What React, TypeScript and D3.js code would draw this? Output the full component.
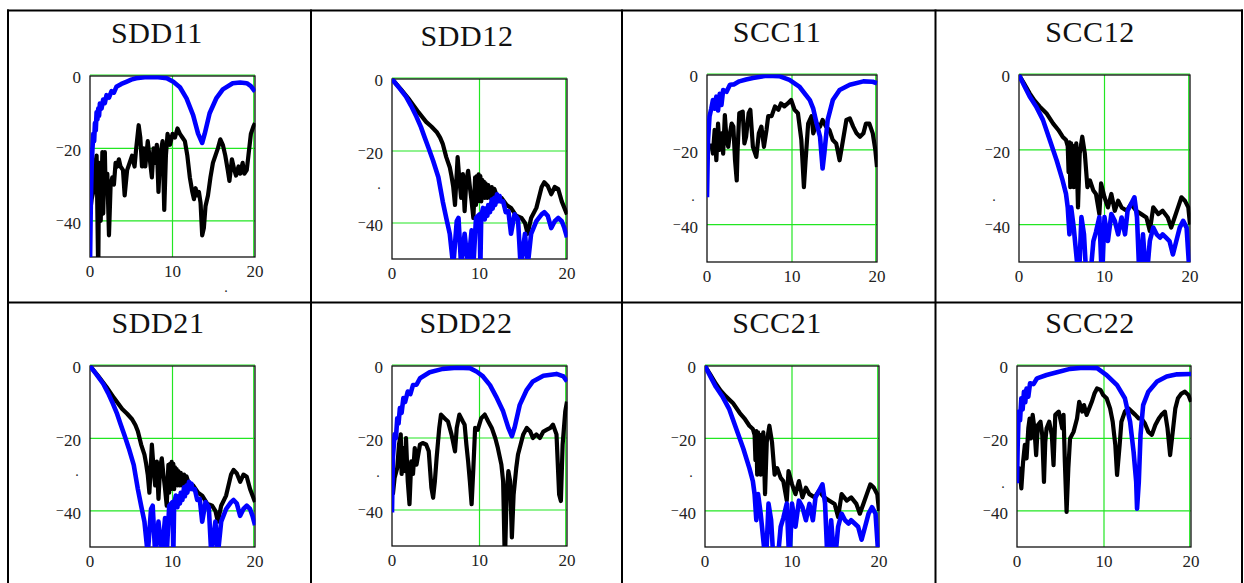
import React, { useEffect, useRef } from "react";
import * as d3 from "d3";

// axis ticks (frequency in GHz, magnitude in dB)
const xTicks = [0, 10, 20];
const yTicks = [0, -20, -40];
const xDomain = [0, 20];
const yDomain = [-50, 0];

const titles = ["SDD11", "SDD12", "SCC11", "SCC12", "SDD21", "SDD22", "SCC21", "SCC22"];

// [GHz, dB]
const sdd11Blue = [[0,-52],[0.1,-35],[0.2,-25],[0.3,-20],[0.4,-16],[0.5,-18],[0.6,-13],[0.7,-15],[0.8,-10],[0.9,-12],[1.0,-9],[1.1,-11],[1.2,-7.6],[1.4,-9],[1.6,-6.5],[1.8,-7.5],[2.0,-5.3],[2.3,-6],[2.6,-4.2],[2.9,-4.6],[3.2,-3],[3.8,-2.2],[4.4,-1.6],[5.0,-1],[5.6,-0.6],[6.9,-0.3],[8,-0.3],[9.3,-0.6],[10.1,-1.6],[10.9,-3.1],[11.7,-6.2],[12.5,-10.8],[13.1,-15.9],[13.6,-18.5],[13.9,-16],[14.5,-10.3],[15.3,-6.2],[16.1,-3.7],[17.3,-2],[18.2,-1.8],[19,-2],[19.5,-2.8],[20,-4.3]];
const sdd11Black = [[0,-38],[0.2,-34],[0.4,-32],[0.6,-25],[0.8,-22],[1.0,-55],[1.1,-24],[1.3,-40],[1.5,-21],[1.6,-38],[1.8,-21],[1.9,-32],[2.1,-27],[2.3,-44],[2.5,-30],[2.7,-28],[2.9,-30],[3.1,-24],[3.3,-25],[3.5,-23],[3.7,-25],[4.0,-26],[4.2,-33],[4.5,-26],[4.8,-24],[5.1,-22],[5.4,-25],[5.6,-20],[5.9,-13.6],[6.1,-17],[6.3,-25],[6.5,-20],[6.7,-25],[7.0,-18],[7.2,-22],[7.5,-28],[7.7,-20],[7.9,-24],[8.1,-19],[8.3,-32],[8.5,-22],[8.8,-18],[9.0,-37],[9.2,-22],[9.4,-16],[9.7,-19],[10.0,-16],[10.3,-17],[10.6,-14.5],[10.9,-16],[11.2,-17],[11.5,-18],[11.8,-22],[12.1,-28],[12.4,-32],[12.6,-34],[12.8,-31],[13.0,-33],[13.2,-32],[13.4,-35],[13.6,-44],[13.8,-42],[14.0,-36],[14.3,-33],[14.6,-28],[14.9,-24],[15.2,-22],[15.5,-20],[15.8,-17.5],[16.1,-19],[16.4,-22],[16.7,-26],[16.9,-29],[17.2,-23],[17.5,-26],[17.7,-27.5],[18.0,-25],[18.2,-27],[18.5,-24],[18.7,-27],[19.0,-26],[19.2,-22],[19.5,-16],[19.8,-14],[20,-13]];

// SDD12 and SDD21 look the same
const sdd12Blue = [[0,0],[0.8,-2.4],[1.6,-4.9],[2.2,-7.5],[2.8,-10.5],[3.3,-13.3],[3.7,-16],[4.2,-19.3],[4.7,-22.7],[5.3,-27.3],[5.8,-34],[6.2,-38.6],[6.6,-43],[7.0,-52],[7.4,-39.5],[7.6,-38.6],[7.9,-52],[8.3,-43],[8.7,-52],[9.1,-42],[9.3,-52],[9.6,-38.6],[10.0,-37.6],[10.1,-52],[10.2,-38],[10.4,-35.8],[10.6,-39],[10.7,-36],[10.9,-38],[11.0,-35],[11.2,-37],[11.4,-33.5],[11.5,-36],[11.7,-33],[11.8,-35],[12.0,-32],[12.1,-34],[12.3,-32.5],[12.4,-34],[12.7,-34],[13.0,-37],[13.3,-36.7],[13.6,-43],[14.0,-37.6],[14.4,-39],[14.7,-52],[15.2,-43],[15.5,-52],[15.9,-43],[16.5,-39.5],[17.1,-37.6],[17.4,-37],[17.8,-38],[18.2,-41.4],[18.6,-39.5],[19.0,-38.6],[19.4,-39.5],[19.7,-41.4],[20,-44]];
const sdd12Black = [[0,0],[1.0,-2.8],[2.0,-5.8],[2.9,-8.8],[3.9,-11.9],[4.5,-13.2],[5.1,-14.7],[5.5,-16.3],[5.8,-18],[6.2,-21.7],[6.6,-24.5],[6.8,-27],[7.0,-30],[7.2,-35],[7.5,-21.7],[7.7,-28],[7.9,-33],[8.1,-26.4],[8.3,-36.7],[8.5,-28],[8.7,-25.5],[8.9,-30],[9.1,-34],[9.3,-38.6],[9.5,-27.3],[9.6,-35],[9.7,-27],[9.8,-34],[9.9,-26.5],[10.0,-33],[10.1,-27],[10.2,-34],[10.3,-28],[10.4,-33],[10.5,-28.5],[10.6,-33],[10.7,-29],[10.9,-33],[11.0,-29.5],[11.2,-33],[11.4,-30],[11.6,-33],[11.7,-30.5],[11.9,-32],[12.2,-33],[12.5,-33],[13.1,-35],[13.6,-35.8],[14.2,-38],[14.8,-38.6],[15.2,-40],[15.5,-43],[15.9,-38.6],[16.5,-35.8],[17.1,-30],[17.4,-28.7],[17.8,-29.7],[18.2,-32],[18.6,-30],[19.0,-30.6],[19.4,-34],[19.7,-35.8],[20,-37.6]];

const scc11Blue = [[0,-32.7],[0.12,-17.4],[0.3,-11],[0.5,-9],[0.7,-6.7],[0.9,-9],[1.1,-5.8],[1.3,-9.5],[1.5,-5],[1.7,-8],[1.9,-4],[2.3,-4.5],[2.7,-2.6],[3.2,-2.5],[3.8,-1.7],[4.6,-1.2],[5.4,-0.8],[7.0,-0.2],[8.5,-0.3],[9.7,-1.3],[10.9,-3.2],[12.1,-6.7],[12.5,-9],[12.9,-13],[13.3,-16.5],[13.6,-25],[13.8,-21],[14.2,-12],[14.8,-6.7],[15.6,-4],[16.8,-2.6],[18.4,-1.7],[19.5,-1.8],[20,-2.2]];
const scc11Black = [[0.5,-18.3],[0.7,-21],[0.9,-14.7],[1.1,-22.8],[1.3,-13],[1.5,-20],[1.7,-15.6],[1.9,-21],[2.1,-10.7],[2.3,-17.4],[2.5,-19.2],[2.7,-15.6],[2.9,-13],[3.1,-13.8],[3.3,-22.8],[3.5,-28.2],[3.6,-20],[3.8,-10.2],[4.2,-9.8],[4.4,-18.3],[4.6,-16.5],[4.9,-10.2],[5.1,-9.3],[5.4,-19.2],[5.8,-21.9],[6.1,-15.6],[6.4,-13.8],[6.7,-19.2],[7.0,-14.7],[7.2,-11],[7.6,-11],[8.0,-8.4],[8.4,-9.3],[8.7,-7.6],[9.1,-8.4],[9.5,-7.6],[9.9,-6.7],[10.3,-9.3],[10.7,-10.2],[11.1,-17.4],[11.4,-30],[11.6,-22.8],[11.9,-13],[12.3,-11],[12.5,-15.6],[12.9,-13],[13.3,-13.8],[13.6,-12],[14.0,-13.8],[14.4,-14.7],[14.8,-17.4],[15.2,-18.3],[15.6,-22.8],[16.0,-17.4],[16.4,-12],[16.8,-11.6],[17.2,-13.8],[17.6,-15.6],[18.0,-16.5],[18.4,-15.6],[18.7,-13],[19.1,-13],[19.5,-15.6],[19.8,-20],[20,-24.6]];

// SCC12 and SCC21 look the same
const scc12Blue = [[0,0],[0.6,-2.8],[1.25,-5.75],[2.0,-8.4],[2.8,-12],[3.6,-17.4],[4.4,-22.8],[5.1,-28.2],[5.5,-31.8],[5.7,-35.4],[5.9,-42.6],[6.1,-35.4],[6.4,-40.8],[6.7,-48],[7.0,-55],[7.3,-38],[7.6,-42.6],[7.9,-55],[8.3,-55],[8.7,-44.4],[9.0,-42],[9.4,-38],[9.7,-55],[10.0,-38],[10.4,-44.4],[10.8,-37.2],[11.2,-39],[11.6,-42.6],[12.0,-38.1],[12.4,-42.6],[12.7,-36.3],[13.1,-34.5],[13.5,-32.7],[13.8,-38],[14.1,-55],[14.5,-42.6],[14.9,-55],[15.3,-44.4],[15.7,-40.8],[16.1,-42.6],[16.5,-43.5],[16.8,-42.6],[17.2,-43.5],[17.6,-44.4],[18.0,-48],[18.4,-44.4],[18.8,-40.8],[19.2,-39],[19.6,-40.8],[20,-55]];
const scc12Black = [[0,0],[0.6,-2.3],[1.25,-4.9],[1.8,-6.8],[2.4,-8.4],[3.2,-10.2],[4.0,-13],[4.6,-14.7],[5.1,-16.5],[5.5,-17.4],[5.7,-19],[5.8,-26],[5.9,-18],[6.0,-30],[6.1,-18.3],[6.2,-27],[6.3,-19],[6.4,-30],[6.5,-19],[6.6,-25],[6.7,-18.3],[6.9,-35.4],[7.1,-21],[7.4,-16.5],[7.7,-21],[8.0,-30],[8.3,-28.2],[8.7,-30.9],[9.0,-31.8],[9.4,-37.2],[9.6,-29],[10.0,-32.7],[10.4,-35.4],[10.8,-31.8],[11.2,-36.3],[11.6,-33.6],[12.0,-35.4],[12.6,-36.3],[13.1,-34.5],[13.7,-36.3],[14.3,-37.2],[14.9,-38.1],[15.3,-41.7],[15.7,-35.4],[16.3,-37.2],[16.8,-36.3],[17.4,-38.1],[17.8,-40.8],[18.2,-38.1],[18.6,-35.4],[19.0,-32.7],[19.4,-33.6],[19.8,-35.4],[20,-40]];

const sdd22Blue = [[0,-40.7],[0.1,-25.5],[0.3,-19],[0.45,-20],[0.6,-14.5],[0.75,-16],[0.9,-11.7],[1.1,-13],[1.3,-8.9],[1.5,-10],[1.8,-7.1],[2.1,-7.8],[2.4,-5.3],[2.8,-5.2],[3.2,-3.4],[4.3,-1.75],[5.8,-0.8],[7.4,-0.5],[8.9,-0.6],[9.7,-1.6],[10.4,-2.9],[11.2,-5.3],[11.9,-8.5],[12.7,-12.6],[13.3,-17.2],[13.7,-19.5],[14.0,-17.2],[14.6,-10.8],[15.4,-6.6],[16.1,-4.3],[17.3,-2.7],[18.8,-2.2],[19.6,-2.9],[20,-4.3]];
const sdd22Black = [[0.1,-35.7],[0.3,-31],[0.6,-28.3],[0.8,-21.8],[1.0,-19],[1.1,-30],[1.3,-22.8],[1.5,-29.2],[1.6,-20],[1.8,-32],[2.0,-38.4],[2.2,-26.5],[2.4,-30],[2.6,-22.8],[2.8,-27.4],[3.0,-24.6],[3.2,-21.8],[3.5,-21.4],[3.9,-21.8],[4.2,-23.7],[4.5,-33.8],[4.7,-36.6],[4.9,-32],[5.1,-25.5],[5.4,-17.2],[5.6,-13.5],[6.0,-14.5],[6.4,-15.4],[6.8,-19],[7.2,-23.7],[7.4,-17.2],[7.7,-13.5],[8.1,-15.4],[8.3,-16.3],[8.5,-21.8],[8.7,-26.5],[8.9,-32],[9.1,-38.4],[9.3,-28.3],[9.5,-17.2],[9.8,-17.7],[10.2,-14.5],[10.6,-13.5],[11.0,-15.4],[11.4,-17.2],[11.8,-20],[12.1,-22.8],[12.5,-27.4],[12.7,-32],[12.9,-55],[13.1,-35.7],[13.3,-29.2],[13.5,-32],[13.7,-47.6],[13.9,-35.7],[14.2,-28.3],[14.4,-24.6],[14.7,-21.8],[15.0,-19],[15.4,-17.2],[15.8,-18.2],[16.1,-20],[16.5,-19],[16.9,-20],[17.3,-18.2],[17.7,-17.7],[18.1,-17.2],[18.4,-16.3],[18.8,-19],[19.1,-35.7],[19.3,-37.5],[19.5,-21.8],[19.8,-12.6],[20,-9.9]];

const scc22Blue = [[0,-32.4],[0.08,-21.8],[0.2,-12.6],[0.35,-15],[0.5,-8.9],[0.65,-12],[0.8,-7.1],[0.95,-10],[1.1,-6.2],[1.3,-8.5],[1.5,-4.8],[1.9,-5],[2.3,-3.4],[3.4,-2.5],[4.6,-1.75],[6.1,-0.8],[7.6,-0.5],[9.2,-0.6],[10.3,-2.5],[11.5,-5.3],[12.4,-8.9],[13.0,-15.4],[13.4,-23.7],[13.7,-32],[13.8,-39.4],[14.0,-32],[14.2,-19],[14.5,-10.8],[15.1,-7.1],[16.1,-4.3],[17.2,-2.9],[18.4,-2.3],[20,-2.2]];
const scc22Black = [[0.1,-30],[0.3,-28.3],[0.5,-33.8],[0.7,-26.5],[0.9,-21.8],[1.1,-25.5],[1.3,-17.2],[1.45,-14.5],[1.6,-20],[1.8,-13.5],[2.0,-17.2],[2.2,-24.6],[2.4,-16.3],[2.7,-15.4],[2.9,-19],[3.1,-32],[3.25,-21],[3.4,-17.2],[3.7,-15.4],[4.0,-19],[4.2,-27.4],[4.4,-13.5],[4.8,-12.6],[5.2,-17.2],[5.35,-13.5],[5.5,-26.5],[5.7,-40.3],[5.9,-28.3],[6.1,-20],[6.5,-18.2],[6.9,-14.5],[7.15,-9.9],[7.5,-12.6],[7.7,-10.8],[8.0,-13.5],[8.3,-11.7],[8.6,-9.9],[8.9,-7.6],[9.2,-6.2],[9.6,-6.6],[9.9,-8],[10.3,-8.9],[10.7,-11.7],[11.0,-15.4],[11.3,-21.8],[11.5,-30.1],[11.8,-21.8],[12.0,-15.4],[12.4,-12.6],[12.8,-11.7],[13.2,-12.6],[13.6,-13.5],[14.0,-14.5],[14.3,-14.5],[14.7,-15.9],[15.1,-18.2],[15.5,-19],[15.9,-16.3],[16.3,-14.5],[16.6,-13.5],[17.0,-12.6],[17.3,-17.2],[17.6,-24.6],[17.9,-18.2],[18.2,-11.7],[18.5,-8.9],[18.9,-7.6],[19.3,-7.1],[19.7,-8],[20,-9.9]];

const blackSeries = [sdd11Black, sdd12Black, scc11Black, scc12Black, sdd12Black, sdd22Black, scc12Black, scc22Black];
const blueSeries = [sdd11Blue, sdd12Blue, scc11Blue, scc12Blue, sdd12Blue, sdd22Blue, scc12Blue, scc22Blue];

// plot boxes in page pixels: [left, top, right, bottom], title centre/baseline, stray dot
const boxes = [
  { l: 90, t: 76, r: 255, b: 257, tx: 157, ty: 43, dx: 226, dy: 292 },
  { l: 392, t: 79, r: 567, b: 259, tx: 467, ty: 46, dx: 379, dy: 189 },
  { l: 707, t: 75, r: 877, b: 262, tx: 777, ty: 42, dx: 693, dy: 201 },
  { l: 1019, t: 75, r: 1190, b: 262, tx: 1090, ty: 42, dx: 994, dy: 201 },
  { l: 90, t: 366, r: 255, b: 547, tx: 158, ty: 333, dx: 77, dy: 476 },
  { l: 392, t: 366, r: 567, b: 546, tx: 466, ty: 333, dx: 378, dy: 477 },
  { l: 705, t: 366, r: 879, b: 547, tx: 777, ty: 333, dx: 691, dy: 477 },
  { l: 1017, t: 366, r: 1191, b: 547, tx: 1090, ty: 333, dx: 1003, dy: 488 },
];

const serif = "'Liberation Serif', 'Times New Roman', serif";

export default function App() {
  const svgRef = useRef(null);

  useEffect(() => {
    const width = 1244;
    const height = 583;
    const svg = d3.select(svgRef.current).attr("width", width).attr("height", height);
    svg.selectAll("*").remove();
    const defs = svg.append("defs");

    // table grid
    const table = svg.append("g").attr("stroke", "#000").attr("stroke-width", 2);
    table.append("line").attr("x1", 7).attr("x2", 1243).attr("y1", 10.5).attr("y2", 10.5);
    table.append("line").attr("x1", 7).attr("x2", 1243).attr("y1", 302.5).attr("y2", 302.5);
    [8, 311, 622, 935.5, 1242].forEach((cx) => {
      table.append("line").attr("x1", cx).attr("x2", cx).attr("y1", 9.5).attr("y2", height);
    });

    titles.forEach((title, i) => {
      const bx = boxes[i];
      const x = d3.scaleLinear().domain(xDomain).range([bx.l, bx.r]);
      const y = d3.scaleLinear().domain(yDomain).range([bx.b, bx.t]);
      const g = svg.append("g");

      g.append("text")
        .attr("x", bx.tx)
        .attr("y", bx.ty)
        .attr("text-anchor", "middle")
        .attr("font-family", serif)
        .attr("font-size", 30)
        .attr("letter-spacing", 0.6)
        .attr("fill", "#111")
        .text(title);

      // green grid
      yTicks.forEach((t) => {
        const yy = t === 0 ? y(t) - 1 : y(t);
        g.append("line")
          .attr("x1", bx.l).attr("x2", bx.r)
          .attr("y1", yy).attr("y2", yy)
          .attr("stroke", "#22e622").attr("stroke-width", 1.2);
      });
      xTicks.filter((t) => t > 0).forEach((t) => {
        const xx = t === 20 ? x(t) - 1.3 : x(t);
        g.append("line")
          .attr("x1", xx).attr("x2", xx)
          .attr("y1", bx.t).attr("y2", bx.b)
          .attr("stroke", "#22e622").attr("stroke-width", 1.2);
      });

      g.append("rect")
        .attr("x", bx.l).attr("y", bx.t)
        .attr("width", bx.r - bx.l).attr("height", bx.b - bx.t)
        .attr("fill", "none").attr("stroke", "#111").attr("stroke-width", 1.3);

      const clipId = `clip-${i}`;
      defs.append("clipPath").attr("id", clipId)
        .append("rect")
        .attr("x", bx.l).attr("y", bx.t - 0.5)
        .attr("width", bx.r - bx.l + 0.5).attr("height", bx.b - bx.t + 0.5);

      const line = d3.line().x((d) => x(d[0])).y((d) => y(d[1]));

      g.append("path")
        .datum(blackSeries[i])
        .attr("d", line)
        .attr("fill", "none")
        .attr("stroke", "#000")
        .attr("stroke-width", 4.2)
        .attr("stroke-linejoin", "round")
        .attr("clip-path", `url(#${clipId})`);

      g.append("path")
        .datum(blueSeries[i])
        .attr("d", line)
        .attr("fill", "none")
        .attr("stroke", "#0000ff")
        .attr("stroke-width", 4.6)
        .attr("stroke-linejoin", "round")
        .attr("clip-path", `url(#${clipId})`);

      // tick labels
      yTicks.forEach((t) => {
        const lbl = g.append("text")
          .attr("x", bx.l - 9)
          .attr("y", t === 0 ? y(t) + 7 : y(t) + 8)
          .attr("text-anchor", "end")
          .attr("font-family", serif)
          .attr("font-size", 17)
          .attr("fill", "#222");
        if (t < 0) {
          lbl.append("tspan").attr("font-size", 14).attr("dy", -4).text("\u2212");
          lbl.append("tspan").attr("dy", 4).text(Math.abs(t));
        } else {
          lbl.text(t);
        }
      });
      xTicks.forEach((t) => {
        g.append("text")
          .attr("x", x(t))
          .attr("y", bx.b + 20)
          .attr("text-anchor", "middle")
          .attr("font-family", serif)
          .attr("font-size", 17)
          .attr("fill", "#222")
          .text(t);
      });

      g.append("text")
        .attr("x", bx.dx).attr("y", bx.dy)
        .attr("text-anchor", "middle")
        .attr("font-family", serif)
        .attr("font-size", 14)
        .attr("fill", "#222")
        .text(".");
    });
  }, []);

  return (
    <svg ref={svgRef} style={{ position: "absolute", left: 0, top: 0, background: "#fff" }}></svg>
  );
}
